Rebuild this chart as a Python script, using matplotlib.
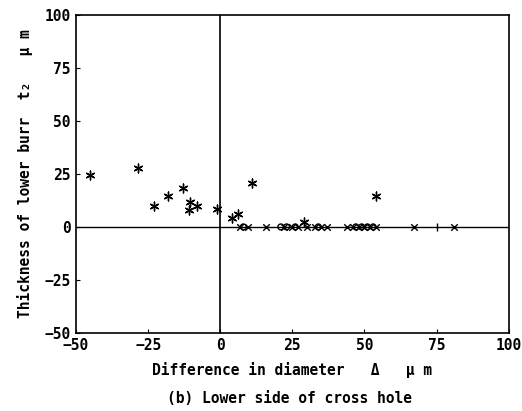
import matplotlib
matplotlib.use("Agg")
import matplotlib.pyplot as plt

# Data
star_x = [-45, -28.5, -23, -18, -13, -10.5, -8, -11, -1, 4, 6, 11, 54, 29]
star_y = [24.5, 28, 10, 14.5, 18.5, 12, 10, 8, 8.5, 4, 6, 20.5, 14.5, 2.5]
cross_x = [7, 9.5, 16, 22, 25, 27, 30, 33, 35, 37, 44, 46, 48, 50, 52, 54, 67, 81]
cross_y = [0] * len(cross_x)
circle_x = [8, 21, 23, 26, 34, 47, 49, 51, 53]
circle_y = [0] * len(circle_x)
bar_x = [75]
bar_y = [0]

xticks = [-50, -25, 0, 25, 50, 75, 100]
yticks = [-50, -25, 0, 25, 50, 75, 100]

plt.rcParams['font.family'] = ['DejaVu Sans Mono']
fig = plt.figure(figsize=(5.22, 4.11), dpi=100)
ax = fig.add_axes([0.1456, 0.19, 0.829, 0.7735])

ax.set_xlim(-50, 100)
ax.set_ylim(-50, 100)
ax.axhline(0, color='black', lw=1.0)
ax.axvline(0, color='black', lw=1.2)

ax.scatter(star_x, star_y, marker=(6, 2, 0), s=40, color='black', lw=1.0)
ax.scatter(cross_x, cross_y, marker='x', s=22, color='black', lw=1.0)
ax.scatter(circle_x, circle_y, marker='o', s=18, facecolor='none', edgecolor='black', lw=1.0)
ax.scatter(bar_x, bar_y, marker='|', s=40, color='black', lw=1.0)

ax.set_xticks(xticks)
ax.set_yticks(yticks)
ax.tick_params(direction='in', length=3, width=0.8, labelsize=10.5, pad=4)
for lab in ax.get_xticklabels() + ax.get_yticklabels():
    lab.set_fontweight('bold')
for s in ax.spines.values():
    s.set_linewidth(1.2)

ax.set_ylabel('Thickness of lower burr  t\u2082   \u03bc m', fontsize=10.5, fontweight='bold', labelpad=8)
ax.set_xlabel('Difference in diameter   \u0394   \u03bc m', fontsize=10.5, fontweight='bold', labelpad=6)
fig.text(0.555, 0.03, '(b) Lower side of cross hole', ha='center', va='center', fontsize=10.5, fontweight='bold')

fig.savefig('out.png', dpi=100)
